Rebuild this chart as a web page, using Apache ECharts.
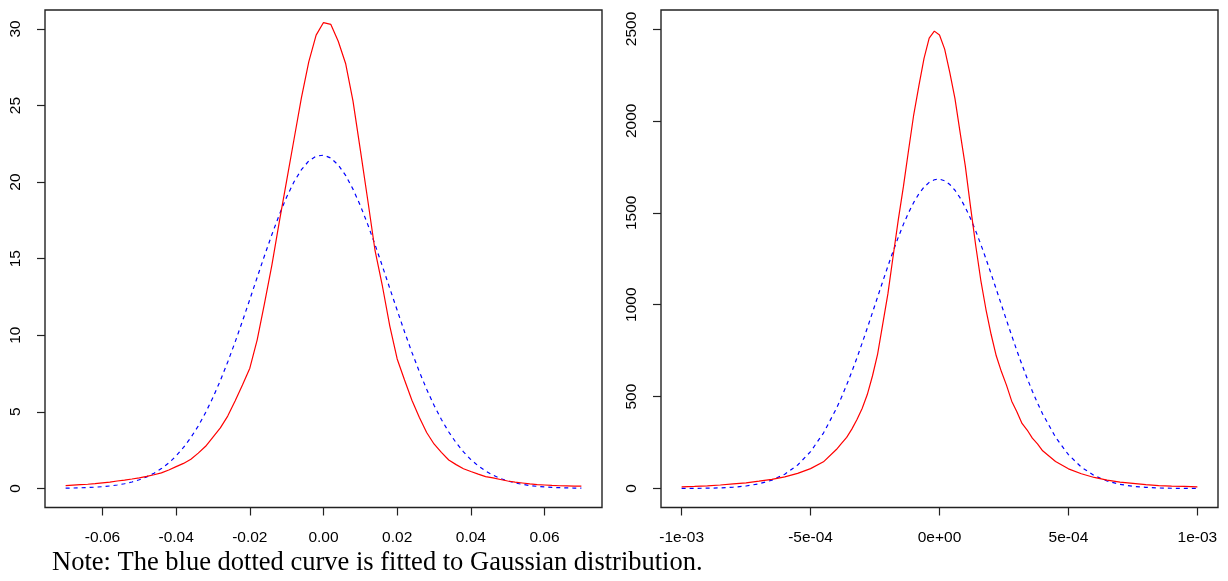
<!DOCTYPE html>
<html>
<head>
<meta charset="utf-8">
<script src="https://cdn.jsdelivr.net/npm/echarts@6/dist/echarts.min.js"></script>
<style>
html,body{margin:0;padding:0;background:#fff;}
#chart{width:1228px;height:581px;}
</style>
</head>
<body>
<div id="chart"></div>
<script>
// ---- Left panel data ----
const leftX = [-0.070,-0.068,-0.066,-0.064,-0.062,-0.060,-0.058,-0.056,-0.054,-0.052,-0.050,-0.048,-0.046,-0.044,-0.042,-0.040,-0.038,-0.036,-0.034,-0.032,-0.030,-0.028,-0.026,-0.024,-0.022,-0.020,-0.018,-0.016,-0.014,-0.012,-0.010,-0.008,-0.006,-0.004,-0.002,0.000,0.002,0.004,0.006,0.008,0.010,0.012,0.014,0.016,0.018,0.020,0.022,0.024,0.026,0.028,0.030,0.032,0.034,0.036,0.038,0.040,0.042,0.044,0.046,0.048,0.050,0.052,0.054,0.056,0.058,0.060,0.062,0.064,0.066,0.068,0.070];
const leftRed = [0.18,0.21,0.24,0.27,0.31,0.36,0.41,0.48,0.54,0.61,0.69,0.78,0.89,1.01,1.20,1.42,1.63,1.90,2.30,2.75,3.35,3.95,4.72,5.70,6.75,7.85,9.70,12.1,14.6,17.4,20.1,22.8,25.5,27.85,29.6,30.42,30.3,29.2,27.75,25.3,22.1,18.85,15.52,13.2,10.6,8.45,7.08,5.75,4.65,3.65,2.90,2.35,1.85,1.55,1.28,1.10,0.93,0.77,0.68,0.58,0.48,0.41,0.35,0.29,0.25,0.22,0.19,0.17,0.16,0.15,0.14];
const leftBlue = [0.016,0.024,0.036,0.053,0.077,0.110,0.156,0.219,0.303,0.415,0.561,0.749,0.989,1.29,1.66,2.12,2.67,3.32,4.07,4.95,5.94,7.04,8.25,9.55,10.92,12.34,13.78,15.21,16.58,17.87,19.03,20.02,20.81,21.38,21.70,21.76,21.57,21.12,20.44,19.54,18.47,17.24,15.91,14.50,13.06,11.63,10.22,8.88,7.63,6.47,5.43,4.50,3.68,2.98,2.38,1.88,1.47,1.13,0.862,0.649,0.483,0.355,0.258,0.185,0.131,0.092,0.064,0.044,0.030,0.020,0.013];
const leftXTicks = [-0.06,-0.04,-0.02,0,0.02,0.04,0.06];
const leftXTickLabels = ["-0.06","-0.04","-0.02","0.00","0.02","0.04","0.06"];
const leftYTicks = [0,5,10,15,20,25,30];
const leftYTickLabels = ["0","5","10","15","20","25","30"];

// ---- Right panel data ----
const rightX = [-1000e-6,-950e-6,-900e-6,-850e-6,-800e-6,-750e-6,-700e-6,-650e-6,-600e-6,-550e-6,-500e-6,-450e-6,-400e-6,-380e-6,-360e-6,-340e-6,-320e-6,-300e-6,-280e-6,-260e-6,-240e-6,-220e-6,-200e-6,-180e-6,-160e-6,-140e-6,-120e-6,-100e-6,-80e-6,-60e-6,-40e-6,-20e-6,0,20e-6,40e-6,60e-6,80e-6,100e-6,120e-6,140e-6,160e-6,180e-6,200e-6,220e-6,240e-6,260e-6,280e-6,300e-6,320e-6,340e-6,360e-6,380e-6,400e-6,450e-6,500e-6,550e-6,600e-6,650e-6,700e-6,750e-6,800e-6,850e-6,900e-6,950e-6,1000e-6];
const rightRed = [9,11,14,19,25,31,40,50,63,82,108,145,212,245,278,323,375,435,511,612,731,896,1060,1262,1460,1642,1840,2033,2190,2340,2450,2488,2467,2390,2262,2121,1936,1755,1536,1326,1134,975,839,722,636,561,475,418,354,318,274,243,205,147,107,80,60,46,35,28,21,16,13,11,9];
const rightBlue = [0.31,0.72,1.6,3.4,7.0,13.6,25.4,45.5,77.9,127.8,200.7,301.6,434.4,496.5,563.6,635.5,711.2,790.7,872.8,956.9,1041.9,1126.6,1209.7,1290.2,1366.1,1436.8,1500.4,1556.3,1602.9,1639.4,1665.2,1679.7,1682.7,1673.9,1653.7,1622.4,1580.7,1529.3,1469.6,1402.3,1328.7,1250.5,1168.5,1084.5,999.5,914.7,831.6,750.4,672.9,599.0,529.5,464.8,405.3,278.9,184.0,116.2,70.2,40.6,22.5,11.9,6.1,2.9,1.4,0.6,0.26];
const rightXTicks = [-0.001,-0.0005,0,0.0005,0.001];
const rightXTickLabels = ["-1e-03","-5e-04","0e+00","5e-04","1e-03"];
const rightYTicks = [0,500,1000,1500,2000,2500];
const rightYTickLabels = ["0","500","1000","1500","2000","2500"];

const noteText = "Note: The blue dotted curve is fitted to Gaussian distribution.";

function pairs(xs, ys){ return xs.map((x,i)=>[x, ys[i]]); }
function labelFor(ticks, labels){
  return function(v){
    for (let i=0;i<ticks.length;i++){ if (Math.abs(ticks[i]-v) < 1e-12 + Math.abs(ticks[i])*1e-6) return labels[i]; }
    return '';
  };
}
const axisColor = '#222';
const labelFont = {color:'#000', fontFamily:'"Liberation Sans", Arial, sans-serif', fontSize:15.5};

function xAxisCfg(gi, min, max, ticks, labels){
  return {
    type:'value', gridIndex:gi, min:min, max:max, position:'bottom',
    axisLine:{show:false, onZero:false},
    splitLine:{show:false},
    axisTick:{show:true, length:8, lineStyle:{color:axisColor, width:1.2}, customValues:ticks},
    axisLabel:Object.assign({show:true, margin:22, customValues:ticks, formatter:labelFor(ticks,labels), showMinLabel:true, showMaxLabel:true}, labelFont)
  };
}
function yAxisCfg(gi, min, max, ticks, labels){
  return {
    type:'value', gridIndex:gi, min:min, max:max, position:'left',
    axisLine:{show:false, onZero:false},
    splitLine:{show:false},
    axisTick:{show:true, length:8, lineStyle:{color:axisColor, width:1.2}, customValues:ticks},
    axisLabel:Object.assign({show:true, margin:21, rotate:90, customValues:ticks, formatter:labelFor(ticks,labels), showMinLabel:true, showMaxLabel:true}, labelFont)
  };
}

const chart = echarts.init(document.getElementById('chart'), null, {renderer:'canvas'});
chart.setOption({
  backgroundColor:'#fff',
  animation:false,
  grid:[
    {left:45, top:10, width:557, height:497.5, show:true, borderColor:axisColor, borderWidth:1.4, backgroundColor:'transparent', containLabel:false, outerBoundsMode:'none'},
    {left:661, top:10, width:557, height:497.5, show:true, borderColor:axisColor, borderWidth:1.4, backgroundColor:'transparent', containLabel:false, outerBoundsMode:'none'}
  ],
  xAxis:[
    xAxisCfg(0, -0.0756, 0.0756, leftXTicks, leftXTickLabels),
    xAxisCfg(1, -0.00108, 0.00108, rightXTicks, rightXTickLabels)
  ],
  yAxis:[
    yAxisCfg(0, -1.25, 31.24, leftYTicks, leftYTickLabels),
    yAxisCfg(1, -103.4, 2603, rightYTicks, rightYTickLabels)
  ],
  series:[
    {type:'line', xAxisIndex:0, yAxisIndex:0, data:pairs(leftX,leftRed), showSymbol:false, symbol:'none', lineStyle:{color:'#ff0000', width:1.2}, z:3},
    {type:'line', xAxisIndex:0, yAxisIndex:0, data:pairs(leftX,leftBlue), showSymbol:false, symbol:'none', lineStyle:{color:'#0000ff', width:1.2, type:[4,4]}, z:2},
    {type:'line', xAxisIndex:1, yAxisIndex:1, data:pairs(rightX,rightRed), showSymbol:false, symbol:'none', lineStyle:{color:'#ff0000', width:1.2}, z:3},
    {type:'line', xAxisIndex:1, yAxisIndex:1, data:pairs(rightX,rightBlue), showSymbol:false, symbol:'none', lineStyle:{color:'#0000ff', width:1.2, type:[4,4]}, z:2}
  ],
  graphic:[
    {type:'text', x:52, y:563, style:{text:noteText, fill:'#000', font:'26.5px "Liberation Serif", "Times New Roman", serif', verticalAlign:'middle', align:'left'}}
  ]
});
</script>
</body>
</html>
